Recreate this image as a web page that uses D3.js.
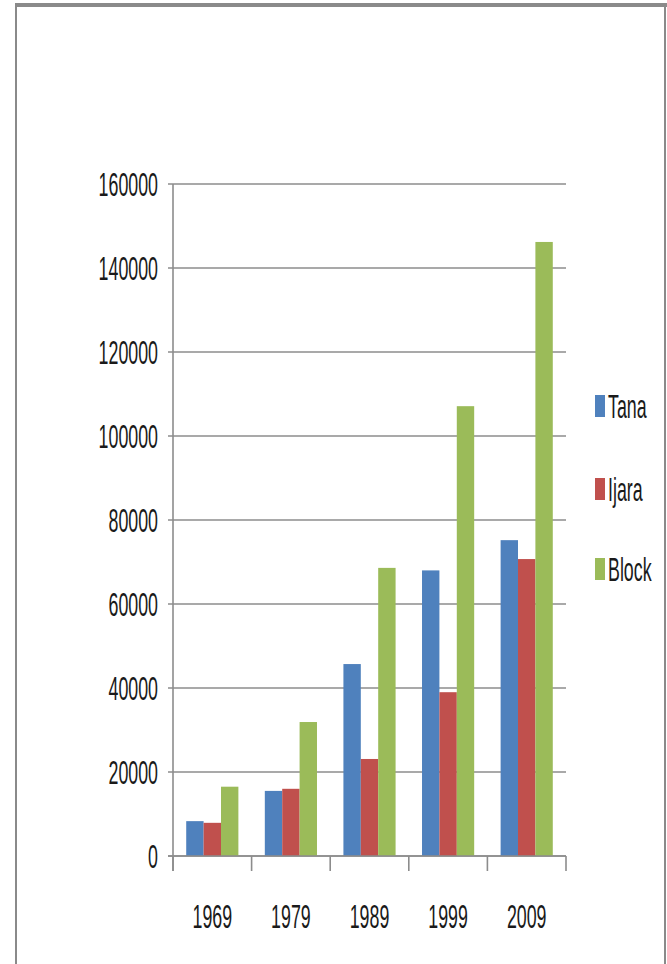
<!DOCTYPE html>
<html>
<head>
<meta charset="utf-8">
<script src="https://cdn.jsdelivr.net/npm/d3@7"></script>
<style>
  html, body { margin: 0; padding: 0; background: #fff; }
  svg { display: block; }
  text { font-family: "Liberation Sans", Arial, sans-serif; fill: #1a1a1a; }
</style>
</head>
<body>
<svg id="chart" width="667" height="964"></svg>
<script>
// Population by district, census years
const years = ["1969", "1979", "1989", "1999", "2009"];
const seriesNames = ["Tana", "Ijara", "Block"];
const tana  = [8300, 15500, 45700, 68000, 75200];
const ijara = [7900, 16000, 23100, 39000, 70700];
const block = [16500, 31900, 68600, 107100, 146200];
const seriesValues = [tana, ijara, block];
const seriesColors = ["#4F81BD", "#C0504D", "#9BBB59"];
const yTicks = [0, 20000, 40000, 60000, 80000, 100000, 120000, 140000, 160000];

const svg = d3.select("#chart");

// Outer frame
svg.append("line").attr("x1", 15).attr("x2", 667).attr("y1", 5).attr("y2", 5)
  .attr("stroke", "#8a8a8a").attr("stroke-width", 4);
svg.append("line").attr("x1", 16).attr("x2", 16).attr("y1", 3).attr("y2", 964)
  .attr("stroke", "#8a8a8a").attr("stroke-width", 2);
svg.append("line").attr("x1", 665).attr("x2", 665).attr("y1", 3).attr("y2", 964)
  .attr("stroke", "#8a8a8a").attr("stroke-width", 2);

const plot = { left: 173, right: 566, top: 184, bottom: 856 };

const x = d3.scaleBand().domain(years).range([plot.left, plot.right]).paddingInner(0).paddingOuter(0);
const xs = d3.scaleBand().domain(seriesNames).range([0, x.bandwidth()]).paddingInner(0).paddingOuter(0.76);
const y = d3.scaleLinear().domain([0, 160000]).range([plot.bottom, plot.top]);

// Condensed text: narrow the glyphs horizontally
const SX = 0.54;
function condensedText(g, str, px, py, anchor, size) {
  g.append("text")
    .attr("transform", `translate(${px},${py}) scale(${SX},1)`)
    .attr("text-anchor", anchor)
    .attr("font-size", size)
    .text(str);
}

// Gridlines and y-axis labels
const grid = svg.append("g");
yTicks.forEach(v => {
  grid.append("line")
    .attr("x1", plot.left - 5).attr("x2", plot.right)
    .attr("y1", y(v)).attr("y2", y(v))
    .attr("stroke", "#8c8c8c").attr("stroke-width", 1.6);
  condensedText(grid, String(v), 158, y(v) + 12, "end", 33);
});

// Bars
const groups = svg.append("g").selectAll("g")
  .data(years.map((yr, i) => ({ yr, vals: seriesValues.map((s, k) => ({ name: seriesNames[k], v: s[i], c: seriesColors[k] })) })))
  .join("g")
  .attr("transform", d => `translate(${x(d.yr)},0)`);

groups.selectAll("rect")
  .data(d => d.vals)
  .join("rect")
  .attr("x", d => xs(d.name))
  .attr("width", xs.bandwidth())
  .attr("y", d => y(d.v))
  .attr("height", d => y(0) - y(d.v))
  .attr("fill", d => d.c);

// Axes lines
svg.append("line").attr("x1", plot.left).attr("x2", plot.left).attr("y1", plot.top).attr("y2", plot.bottom + 15)
  .attr("stroke", "#8c8c8c").attr("stroke-width", 1.6);
svg.append("line").attr("x1", plot.left - 5).attr("x2", plot.right).attr("y1", plot.bottom).attr("y2", plot.bottom)
  .attr("stroke", "#8c8c8c").attr("stroke-width", 1.6);

// Category ticks on x axis
const boundaries = years.map(yr => x(yr)).concat([x(years[years.length - 1]) + x.bandwidth()]);
boundaries.forEach(bx => {
  svg.append("line").attr("x1", bx).attr("x2", bx).attr("y1", plot.bottom).attr("y2", plot.bottom + 15)
    .attr("stroke", "#8c8c8c").attr("stroke-width", 1.6);
});

// Year labels
const xl = svg.append("g");
years.forEach(yr => condensedText(xl, yr, x(yr) + x.bandwidth() / 2, 928, "middle", 33));

// Legend
const legend = svg.append("g");
const legendY = [406, 489, 569];
seriesNames.forEach((name, i) => {
  legend.append("rect").attr("x", 595).attr("y", legendY[i] - 11).attr("width", 10).attr("height", 22)
    .attr("fill", seriesColors[i]);
  condensedText(legend, name, 608, legendY[i] + 12, "start", 33);
});
</script>
</body>
</html>
